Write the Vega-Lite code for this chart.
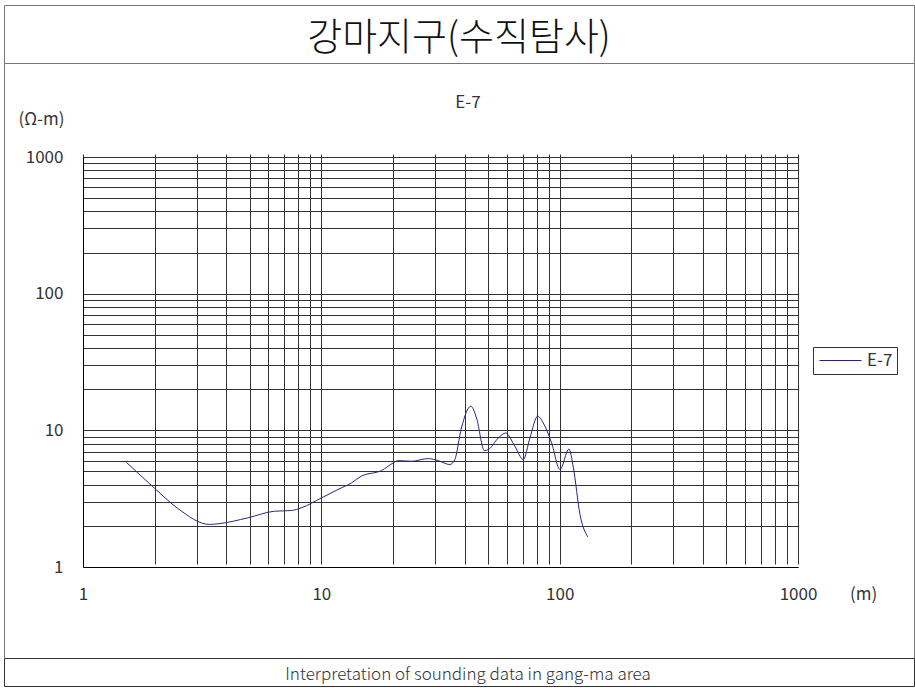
{
  "$schema": "https://vega.github.io/schema/vega-lite/v6.json",
  "background": "white",
  "padding": {"left": 3, "top": 4, "right": 2, "bottom": 3},
  "spacing": 0,
  "bounds": "flush",
  "config": {
    "font": "Noto Sans CJK KR",
    "view": {"stroke": "#777", "strokeWidth": 1}
  },
  "vconcat": [
    {
      "width": 910,
      "height": 58,
      "view": {"stroke": "#777", "strokeWidth": 1, "fill": "white"},
      "data": {"values": [{"label": "강마지구(수직탐사)"}]},
      "mark": {"type": "text", "fontSize": 38, "fontWeight": 300, "color": "#111", "dy": 5},
      "encoding": {"text": {"field": "label", "type": "nominal"}}
    },
    {
      "width": 910,
      "height": 595,
      "title": {"text": "E-7", "offset": -66, "fontSize": 17, "fontWeight": "normal", "color": "#333", "anchor": "middle", "frame": "group", "baseline": "bottom", "dx": 9},
      "data": {"values": [
        {"x": 1.52, "y": 5.84, "series": "E-7"},
        {"x": 1.99, "y": 3.79, "series": "E-7"},
        {"x": 2.5, "y": 2.68, "series": "E-7"},
        {"x": 3.39, "y": 2.05, "series": "E-7"},
        {"x": 3.68, "y": 2.07, "series": "E-7"},
        {"x": 4.92, "y": 2.29, "series": "E-7"},
        {"x": 6.37, "y": 2.56, "series": "E-7"},
        {"x": 7.48, "y": 2.59, "series": "E-7"},
        {"x": 8.24, "y": 2.71, "series": "E-7"},
        {"x": 10, "y": 3.2, "series": "E-7"},
        {"x": 11.75, "y": 3.69, "series": "E-7"},
        {"x": 13.4, "y": 4.13, "series": "E-7"},
        {"x": 14.7, "y": 4.62, "series": "E-7"},
        {"x": 17.9, "y": 5.08, "series": "E-7"},
        {"x": 20, "y": 5.77, "series": "E-7"},
        {"x": 21, "y": 6.0, "series": "E-7"},
        {"x": 23.9, "y": 5.94, "series": "E-7"},
        {"x": 28.1, "y": 6.21, "series": "E-7"},
        {"x": 30.9, "y": 6.01, "series": "E-7"},
        {"x": 34.6, "y": 5.62, "series": "E-7"},
        {"x": 36.3, "y": 6.1, "series": "E-7"},
        {"x": 38.7, "y": 10.4, "series": "E-7"},
        {"x": 42.4, "y": 15.0, "series": "E-7"},
        {"x": 44.8, "y": 12.3, "series": "E-7"},
        {"x": 48.3, "y": 7.11, "series": "E-7"},
        {"x": 50, "y": 7.2, "series": "E-7"},
        {"x": 55.3, "y": 8.79, "series": "E-7"},
        {"x": 59.3, "y": 9.56, "series": "E-7"},
        {"x": 64.9, "y": 7.64, "series": "E-7"},
        {"x": 70.4, "y": 6.11, "series": "E-7"},
        {"x": 75, "y": 8.79, "series": "E-7"},
        {"x": 80.9, "y": 12.7, "series": "E-7"},
        {"x": 85.4, "y": 11.3, "series": "E-7"},
        {"x": 92.5, "y": 8.08, "series": "E-7"},
        {"x": 100.3, "y": 5.17, "series": "E-7"},
        {"x": 109.4, "y": 7.3, "series": "E-7"},
        {"x": 114.2, "y": 5.31, "series": "E-7"},
        {"x": 121.7, "y": 2.42, "series": "E-7"},
        {"x": 131.2, "y": 1.66, "series": "E-7"}
      ]},
      "mark": {"type": "line", "interpolate": "monotone", "strokeWidth": 1},
      "encoding": {
        "x": {
          "field": "x", "type": "quantitative",
          "scale": {"type": "log", "domain": [1, 1000], "range": [79, 794]},
          "axis": {
            "values": [1,2,3,4,5,6,7,8,9,10,20,30,40,50,60,70,80,90,100,200,300,400,500,600,700,800,900,1000],
            "format": "d",
            "labelExpr": "datum.value == 1 || datum.value == 10 || datum.value == 100 || datum.value == 1000 ? datum.label : ''",
            "grid": true, "gridColor": "#333", "gridWidth": 1, "gridOpacity": 1,
            "domainColor": "#000", "ticks": false, "tickSize": 0,
            "labelPadding": 19, "labelFontSize": 17, "labelColor": "#333",
            "labelFlush": false, "labelOverlap": false,
            "offset": -91,
            "title": "(m)", "titleX": 859, "titleY": 27, "titleAlign": "center", "titleBaseline": "middle",
            "titleFontSize": 17, "titleFontWeight": "normal", "titleColor": "#333"
          }
        },
        "y": {
          "field": "y", "type": "quantitative",
          "scale": {"type": "log", "domain": [1, 1000], "range": [504, 94]},
          "axis": {
            "values": [1,2,3,4,5,6,7,8,9,10,20,30,40,50,60,70,80,90,100,200,300,400,500,600,700,800,900,1000],
            "format": "d",
            "labelExpr": "datum.value == 1 || datum.value == 10 || datum.value == 100 || datum.value == 1000 ? datum.label : ''",
            "grid": true, "gridColor": "#333", "gridWidth": 1, "gridOpacity": 1,
            "domainColor": "#000", "ticks": false, "tickSize": 0,
            "labelPadding": 20, "labelFontSize": 17, "labelColor": "#333",
            "labelFlush": false, "labelOverlap": false,
            "offset": -79,
            "title": "(Ω-m)", "titleAngle": 0, "titleX": -42, "titleY": 56, "titleAlign": "center", "titleBaseline": "middle",
            "titleFontSize": 17, "titleFontWeight": "normal", "titleColor": "#333"
          }
        },
        "color": {
          "field": "series", "type": "nominal",
          "scale": {"range": ["#262680"]},
          "legend": {
            "orient": "none", "legendX": 809, "legendY": 342, "title": null,
            "strokeColor": "#333", "fillColor": "white", "padding": 4,
            "symbolType": "stroke", "symbolSize": 1764, "symbolStrokeWidth": 1, "symbolOffset": 2,
            "clipHeight": 19,
            "labelFontSize": 17, "labelColor": "#333", "labelOffset": 5,
            "labelExpr": "datum.label + '\u3000'"
          }
        }
      }
    },
    {
      "width": 910,
      "height": 28,
      "view": {"stroke": "#333", "strokeWidth": 1, "fill": "white"},
      "data": {"values": [{"label": "Interpretation of sounding data in gang-ma area"}]},
      "mark": {"type": "text", "fontSize": 17, "fontWeight": 300, "color": "#333", "dy": 3, "dx": 9},
      "encoding": {"text": {"field": "label", "type": "nominal"}}
    }
  ]
}
